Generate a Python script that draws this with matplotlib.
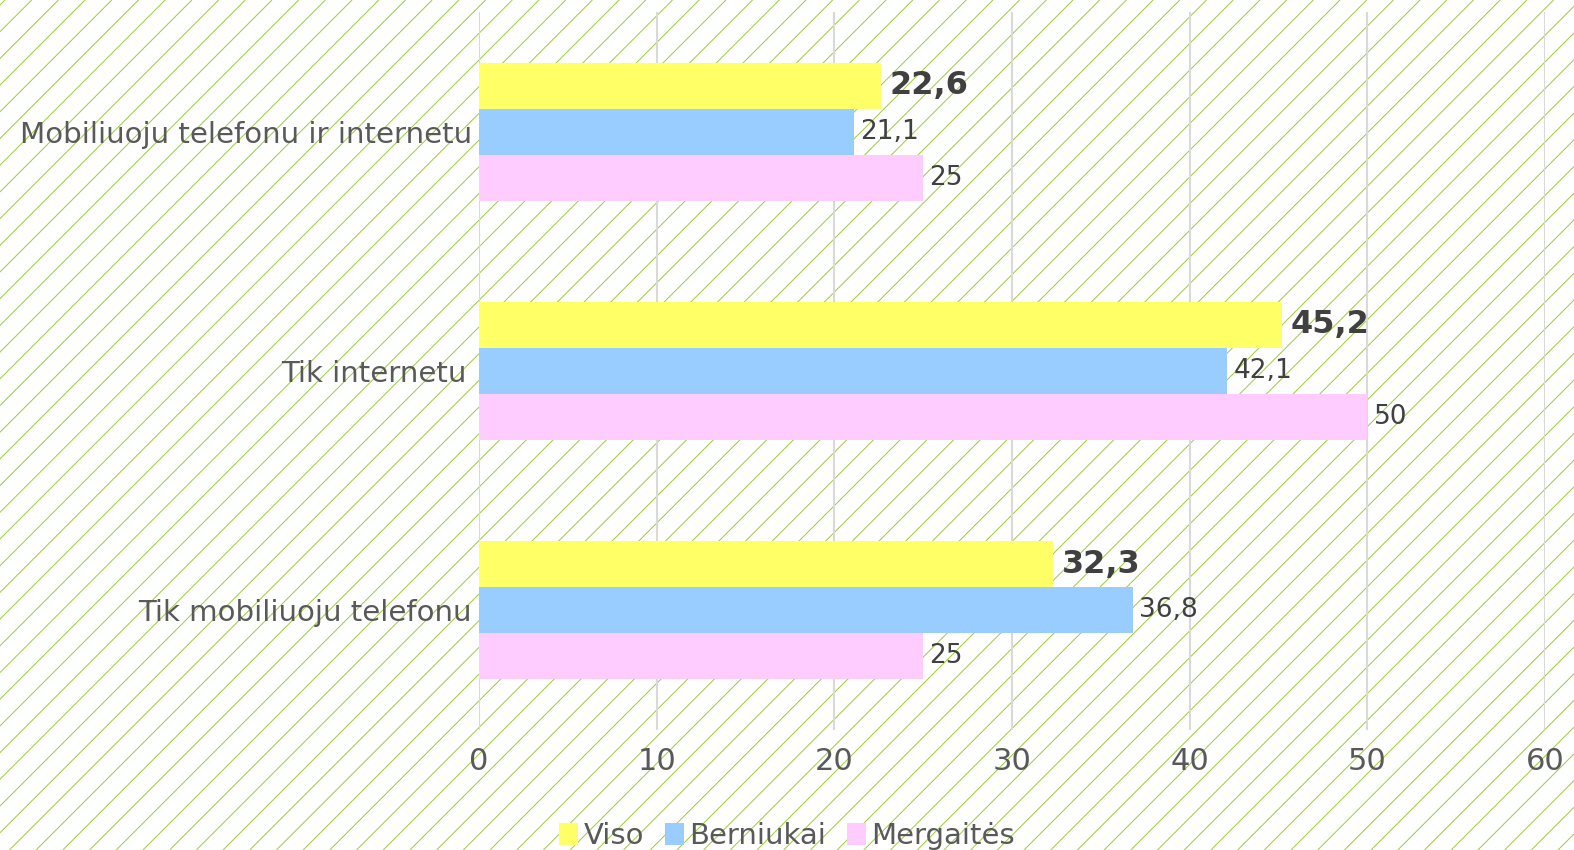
import numpy as np
import matplotlib
matplotlib.use("Agg")
import matplotlib.pyplot as plt
from matplotlib.collections import LineCollection
from matplotlib.patches import Patch

# data, bottom to top
categories = ["Tik mobiliuoju telefonu", "Tik internetu", "Mobiliuoju telefonu ir internetu"]
series_names = ["Viso", "Berniukai", "Mergaitės"]
viso = [32.3, 45.2, 22.6]
berniukai = [36.8, 42.1, 21.1]
mergaites = [25, 50, 25]
x_ticks = [0, 10, 20, 30, 40, 50, 60]

colors = ["#FFFF66", "#99CCFF", "#FFCCFF"]
text_gray = "#595959"
label_dark = "#404040"

plt.rcParams['font.family'] = ['DejaVu Sans']

W, H = 1574, 850
fig = plt.figure(figsize=(W / 100, H / 100), dpi=100)
fig.patch.set_facecolor("white")

# diagonal hatch background over the whole picture
segs = []
step = 26.7
c = 31.7 - step * 40
while c < W + H + step:
    # x + y_img = c  ->  in figure coords y = H - y_img
    x0, y0 = c, 0.0          # image top
    x1, y1 = c - H, float(H)  # image bottom
    segs.append([(x0 / W, 1 - y0 / H), (x1 / W, 1 - y1 / H)])
    c += step
hatch = LineCollection(segs, colors="#9BCB3C", linewidths=0.7,
                       transform=fig.transFigure, zorder=-5)
fig.add_artist(hatch)

ax = fig.add_axes([479 / W, 1 - 730 / H, (1545 - 479) / W, (730 - 12) / H])
ax.set_facecolor("none")

y = np.arange(len(categories))
h = 46 / 239
series = [viso, berniukai, mergaites]
offsets = [h, 0, -h]

for vals, off, col, name in zip(series, offsets, colors, series_names):
    ax.barh(y + off, vals, height=h, color=col, zorder=3, label=name)
    for yi, v in zip(y, vals):
        txt = (f"{v:g}").replace(".", ",")
        if name == "Viso":
            ax.text(v + 0.5, yi + off, txt, va="center", ha="left",
                    fontsize=23, fontweight="bold", color=label_dark, zorder=4)
        else:
            ax.text(v + 0.35, yi + off, txt, va="center", ha="left",
                    fontsize=19, color=label_dark, zorder=4)

ax.set_xlim(0, 60)
ax.set_ylim(-0.5, 2.5)
ax.set_xticks(x_ticks)
ax.set_yticks(y)
ax.set_yticklabels(categories)
ax.tick_params(axis="both", length=0, colors=text_gray)
ax.tick_params(axis="y", pad=5, labelsize=21.1)
ax.tick_params(axis="x", pad=12, labelsize=22)
ax.get_yticklabels()[1].set_x(-0.005)
ax.grid(axis="x", color="#D9D9D9", linewidth=1.5, zorder=0)
for s in ax.spines.values():
    s.set_visible(False)

handles = [Patch(facecolor=c_, edgecolor="none") for c_ in colors]
fig.legend(handles, series_names, loc="center", bbox_to_anchor=(0.5, 1 - 836 / H),
           ncol=3, frameon=False, fontsize=21, labelcolor=text_gray,
           handlelength=0.65, handleheight=0.8, handletextpad=0.2, columnspacing=0.7)

fig.savefig("out.png", dpi=100)
